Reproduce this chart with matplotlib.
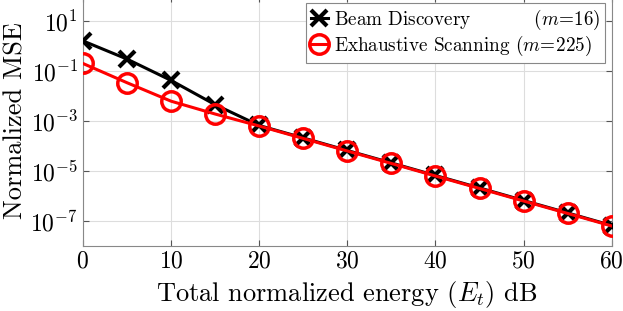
import matplotlib
matplotlib.use('Agg')
import matplotlib.pyplot as plt

plt.rcParams['font.family'] = 'serif'
plt.rcParams['font.serif'] = ['cmr10']
plt.rcParams['mathtext.fontset'] = 'cm'
plt.rcParams['axes.formatter.use_mathtext'] = True

# data
energy_db = [0, 5, 10, 15, 20, 25, 30, 35, 40, 45, 50, 55, 60]
mse_beam = [1.6, 0.3, 0.042, 0.0045, 6.6e-4, 2.1e-4, 6.6e-5, 2.1e-5, 6.6e-6, 2.1e-6, 6.6e-7, 2.1e-7, 6.6e-8]
mse_exh = [0.2, 0.034, 0.0062, 0.0019, 6.3e-4, 2.0e-4, 6.3e-5, 2.0e-5, 6.3e-6, 2.0e-6, 6.3e-7, 2.0e-7, 6.3e-8]

fig = plt.figure(figsize=(6.23, 3.11), dpi=100)
ax = fig.add_axes([0.133, 0.209, 0.849, 0.804])

ax.semilogy(energy_db, mse_beam, color='black', lw=2.2, marker='x',
            ms=11, mew=3, label='Beam Discovery          $(m\\!=\\!16)$', zorder=3)
ax.semilogy(energy_db, mse_exh, color='red', lw=2.2, marker='o', ms=14,
            mew=2.5, mfc='none', label='Exhaustive Scanning $(m\\!=\\!225)$', zorder=4)

ax.set_xlim(0, 60)
ax.set_ylim(1e-8, 1e2)
ax.set_xticks([0, 10, 20, 30, 40, 50, 60])
ax.set_yticks([1e-7, 1e-5, 1e-3, 1e-1, 1e1])
ax.tick_params(which='both', direction='in', labelsize=17, color='#555555',
               right=True, top=True)
ax.tick_params(which='major', length=4)
ax.tick_params(which='minor', length=2)
ax.grid(True, which='major', color='#dddddd', lw=0.8)
ax.grid(True, which='minor', axis='y', color='#e6e6e6', lw=0.6, ls=(0, (2, 1)))
for s in ax.spines.values():
    s.set_color('#888888')

ax.set_xlabel('Total normalized energy $(E_t)$ dB', fontsize=19)
ax.set_ylabel('Normalized MSE', fontsize=19, labelpad=2)

leg = ax.legend(loc='upper right', fontsize=13.8, fancybox=False, framealpha=1,
                edgecolor='#888888', handlelength=0.9, handletextpad=0.3,
                borderpad=0.25, labelspacing=0.12, borderaxespad=0.35)
leg.get_frame().set_linewidth(0.8)

fig.savefig('out.png', dpi=100)
